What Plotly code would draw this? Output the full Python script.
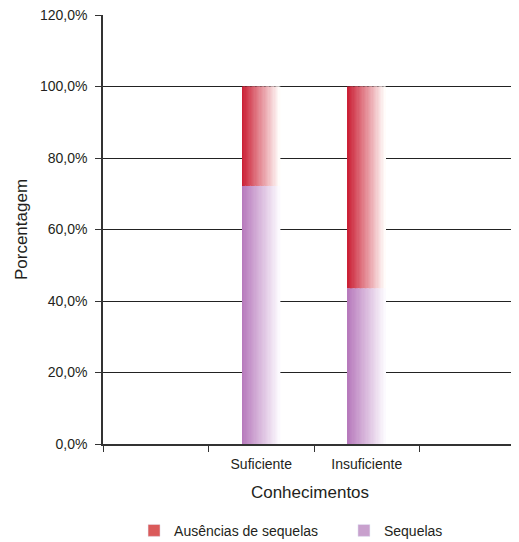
import plotly.graph_objects as go

categories = ["", "Suficiente", "Insuficiente", " "]
bar_categories = ["Suficiente", "Insuficiente"]
sequelas = [72.2, 43.6]
ausencias = [27.8, 56.4]
series_names = ["Ausências de sequelas", "Sequelas"]
y_ticks = [0, 20, 40, 60, 80, 100, 120]
y_tick_text = ["0,0%", "20,0%", "40,0%", "60,0%", "80,0%", "100,0%", "120,0%"]

FONT = "Liberation Sans, Arial, sans-serif"

def lerp(c1, c2, t):
    return "rgb(%d,%d,%d)" % tuple(round(a + (b - a) * t) for a, b in zip(c1, c2))

RED_L, RED_R = (203, 33, 54), (255, 252, 250)
PUR_L, PUR_R = (183, 122, 188), (252, 250, 254)

fig = go.Figure()
N = 30
W = 0.36
sw = W / N
for i in range(N):
    t = i / (N - 1)
    off = -W / 2 + i * sw
    fig.add_trace(go.Bar(x=bar_categories, y=sequelas, base=[0, 0], width=sw * 1.1,
                         offset=off, marker=dict(color=lerp(PUR_L, PUR_R, t), line=dict(width=0)),
                         showlegend=False, hoverinfo="skip"))
    fig.add_trace(go.Bar(x=bar_categories, y=ausencias, base=sequelas, width=sw * 1.1,
                         offset=off, marker=dict(color=lerp(RED_L, RED_R, t), line=dict(width=0)),
                         showlegend=False, hoverinfo="skip"))

fig.add_trace(go.Bar(x=[None], y=[None], name=series_names[0], legend="legend",
                     marker=dict(color="rgb(218,90,90)")))
fig.add_trace(go.Bar(x=[None], y=[None], name=series_names[1], legend="legend2",
                     marker=dict(color="rgb(200,160,205)")))

leg_common = dict(orientation="h", xanchor="left", y=-0.165, yanchor="top",
                  font=dict(size=14), itemwidth=30, bgcolor="rgba(0,0,0,0)")

fig.update_layout(
    width=511, height=534,
    barmode="overlay",
    paper_bgcolor="white", plot_bgcolor="white",
    font=dict(family=FONT, size=14, color="#231f20"),
    margin=dict(l=95, r=2, t=7, b=98, autoexpand=False),
    legend=dict(x=0.075, **leg_common),
    legend2=dict(x=0.582, **leg_common),
    xaxis=dict(type="category", categoryorder="array", categoryarray=categories,
               range=[-0.5, 3.424], showgrid=False, showline=True, linecolor="#333",
               linewidth=1.5, ticks="outside", tickson="boundaries", ticklen=6,
               tickcolor="#333", ticklabelstandoff=6, automargin=False,
               title=dict(text="Conhecimentos", standoff=16)),
    yaxis=dict(range=[0, 120], tickvals=y_ticks, ticktext=y_tick_text,
               showgrid=True, gridcolor="#222", gridwidth=1, showline=True,
               linecolor="#333", linewidth=1.5, ticks="outside", ticklen=6,
               tickcolor="#333", zeroline=False, automargin=False,
               ticklabeloverflow="allow", ticklabelstandoff=5,
               title=dict(text="Porcentagem", standoff=8)),
)

fig.write_html("out.html")
